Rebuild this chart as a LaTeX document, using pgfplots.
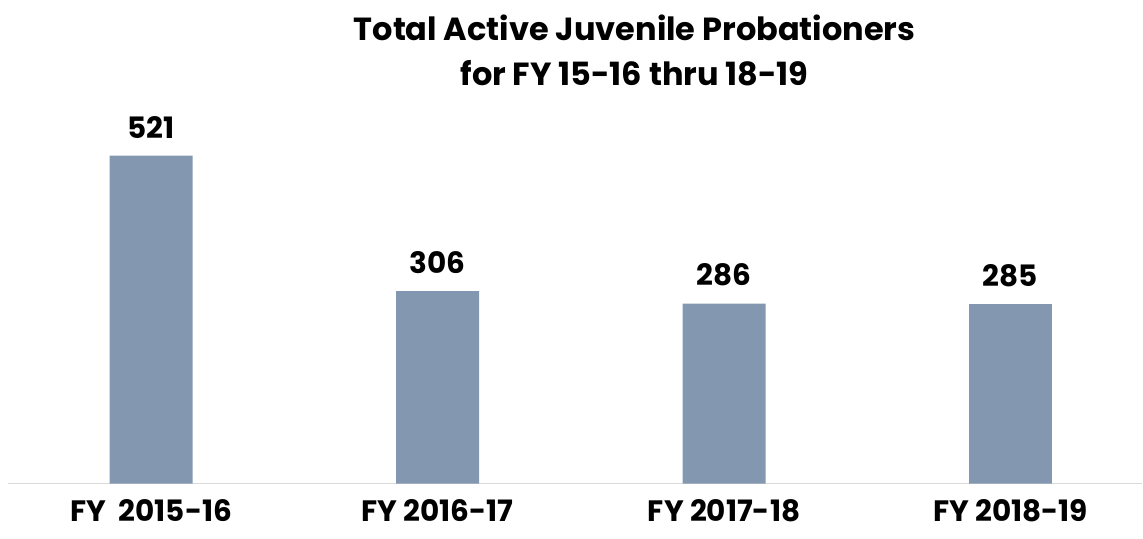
\documentclass[border=0pt]{standalone}
\usepackage{fontspec}
\setmainfont{Poppins}
\usepackage{pgfplots}
\pgfplotsset{compat=1.18}
\definecolor{barblue}{HTML}{8497B0}
\definecolor{axgray}{HTML}{D9D9D9}

\begin{document}
\begin{tikzpicture}[x=1pt,y=1pt]
\path (0,0) rectangle (1143,539);
\node[font=\fontsize{32}{45}\selectfont\bfseries, align=center] at (635,489)
  {Total Active Juvenile Probationers\\for FY 15-16 thru 18-19};
\begin{axis}[
  at={(8pt,55pt)}, anchor=south west,
  scale only axis, width=1135pt, height=378pt,
  xmin=-0.5, xmax=3.46, ymin=0, ymax=600,
  axis x line*=bottom, axis y line=none,
  x axis line style={axgray, line width=1.5pt, -},
  xtick=data, major tick length=0pt,
  xticklabels={FY\ \ 2015-16, FY 2016-17, FY 2017-18, FY 2018-19},
  xticklabel style={font=\fontsize{29.5}{34}\selectfont\bfseries, yshift=-12pt},
  ytick=\empty,
  ybar, bar width=83pt,
  nodes near coords,
  /pgf/number format/assume math mode=true,
  every node near coord/.append style={font=\fontsize{29.5}{34}\selectfont\bfseries, yshift=14pt},
  clip=false,
]
\addplot[fill=barblue, draw=none] coordinates {(0,521) (1,306) (2,286) (3,285)};
\end{axis}
\end{tikzpicture}
\end{document}
